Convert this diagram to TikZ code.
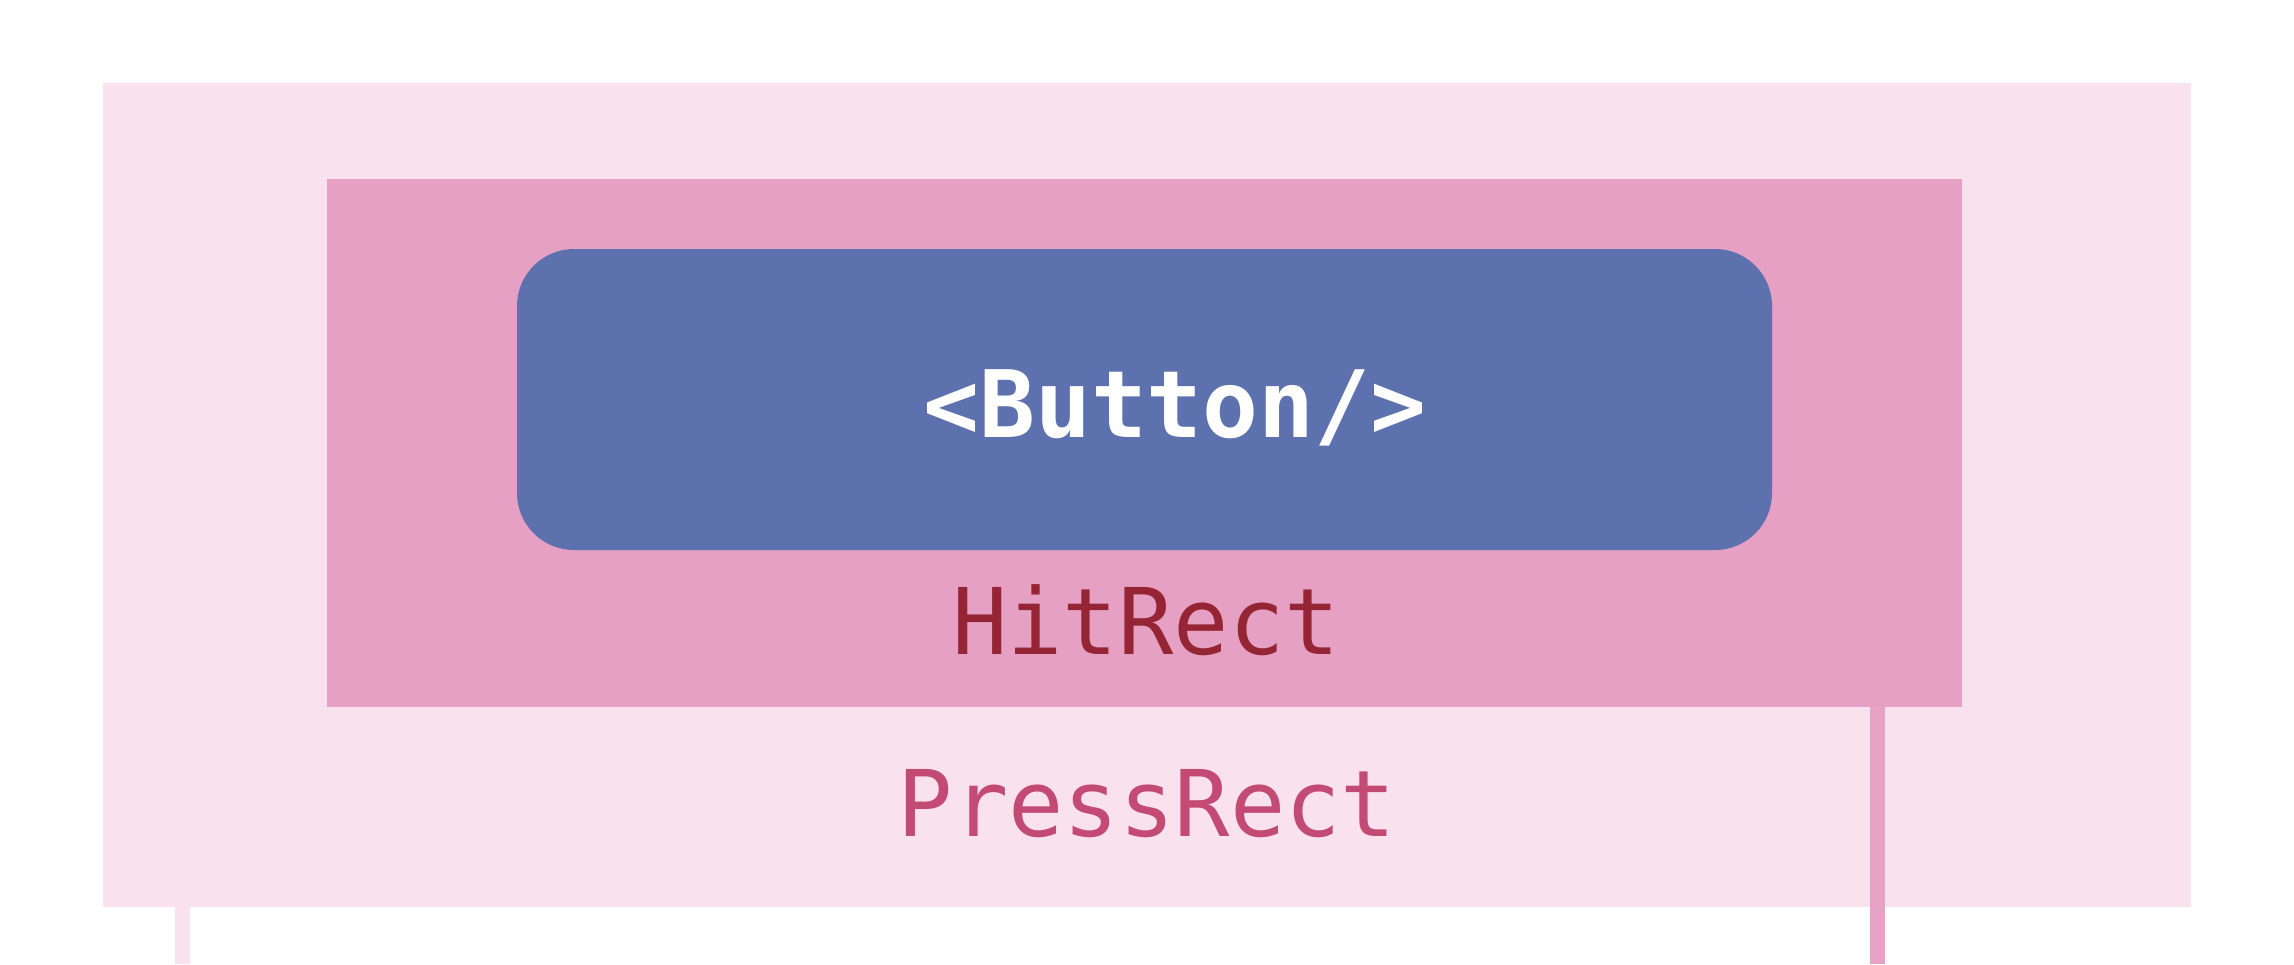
\documentclass[tikz,border=0pt]{standalone}
\usepackage{fontspec}
\setmonofont{DejaVu Sans Mono}
\definecolor{pressbg}{HTML}{F9E1EE}
\definecolor{hitbg}{HTML}{E5A0C3}
\definecolor{btnbg}{HTML}{5D71AF}
\definecolor{hittext}{HTML}{952535}
\definecolor{presstext}{HTML}{C24A73}
\definecolor{hitline}{HTML}{E6A3C5}
\tikzset{
  lbl/.style={anchor=base, inner sep=0pt, font=\fontsize{92}{100}\selectfont\ttfamily},
  stem/.style={line width=15pt, line cap=butt},
}
\begin{document}
\begin{tikzpicture}[x=1pt,y=-1pt]
\useasboundingbox (0,0) rectangle (2294,964);
\fill[white] (0,0) rectangle (2294,964);
% PressRect
\fill[pressbg] (103,83) rectangle (2191,907);
% HitRect
\fill[hitbg] (327,179) rectangle (1962,707);
% Button
\fill[btnbg, rounded corners=57pt] (517,249) rectangle (1772,550);
\node[lbl, text=white, font=\fontsize{93}{100}\selectfont\ttfamily\bfseries] (btn) at (1175,437) {<Button/>};
\node[lbl, text=hittext] (hit) at (1146,654) {HitRect};
\node[lbl, text=presstext] (press) at (1147,836) {PressRect};
% stems
\coordinate (pl1) at (182,907);
\coordinate (pl2) at (182,964);
\coordinate (hl1) at (1877.5,707);
\coordinate (hl2) at (1877.5,964);
\draw[stem, pressbg] (pl1) -- (pl2);
\draw[stem, hitline] (hl1) -- (hl2);
\end{tikzpicture}
\end{document}
